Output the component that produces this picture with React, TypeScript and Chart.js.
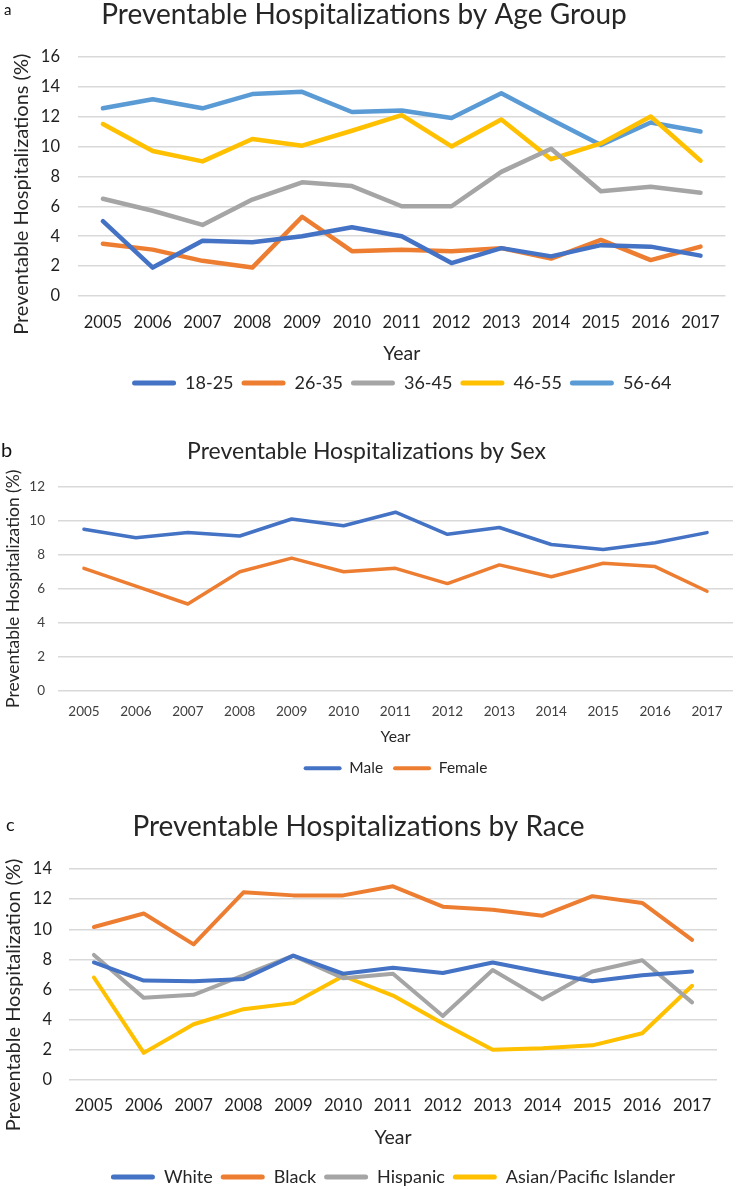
import React, { useEffect, useRef } from 'react';
import { Chart, registerables } from 'chart.js';

Chart.register(...registerables);

const FONT = 'Lato, "Noto Sans", sans-serif';

const years = ['2005', '2006', '2007', '2008', '2009', '2010', '2011', '2012', '2013', '2014', '2015', '2016', '2017'];

// Panel a: age groups
const age18to25 = [5.0, 1.9, 3.7, 3.6, 4.0, 4.6, 4.0, 2.2, 3.2, 2.65, 3.4, 3.3, 2.7];
const age26to35 = [3.5, 3.1, 2.35, 1.9, 5.3, 3.0, 3.1, 3.0, 3.2, 2.5, 3.75, 2.4, 3.3];
const age36to45 = [6.5, 5.7, 4.75, 6.45, 7.6, 7.35, 6.0, 6.0, 8.3, 9.85, 7.0, 7.3, 6.9];
const age46to55 = [11.5, 9.7, 9.0, 10.5, 10.05, 11.05, 12.1, 10.0, 11.8, 9.15, 10.2, 12.0, 9.05];
const age56to64 = [12.55, 13.15, 12.55, 13.5, 13.65, 12.3, 12.4, 11.9, 13.55, 11.8, 10.1, 11.6, 11.0];

// Panel b: sex
const male = [9.5, 9.0, 9.3, 9.1, 10.1, 9.7, 10.5, 9.2, 9.6, 8.6, 8.3, 8.7, 9.3];
const female = [7.2, 6.15, 5.1, 7.0, 7.8, 7.0, 7.2, 6.3, 7.4, 6.7, 7.5, 7.3, 5.85];

// Panel c: race
const white = [7.8, 6.6, 6.55, 6.7, 8.25, 7.05, 7.45, 7.1, 7.8, 7.15, 6.55, 6.95, 7.2];
const black = [10.15, 11.05, 9.0, 12.45, 12.25, 12.25, 12.85, 11.5, 11.3, 10.9, 12.2, 11.75, 9.3];
const hispanic = [8.3, 5.45, 5.65, 6.95, 8.25, 6.75, 7.05, 4.25, 7.3, 5.35, 7.2, 7.95, 5.15];
const asianPacific = [6.8, 1.8, 3.7, 4.7, 5.1, 6.9, 5.6, 3.75, 2.0, 2.1, 2.3, 3.1, 6.25];

const BLUE = '#4472C4';
const ORANGE = '#ED7D31';
const GRAY = '#A5A5A5';
const GOLD = '#FFC000';
const LIGHTBLUE = '#5B9BD5';

type Series = { label: string; data: number[]; color: string };

type Spec = {
  top: number;
  height: number;
  series: Series[];
  lineWidth: number;
  title: string;
  titleSize: number;
  titlePadTop: number;
  titlePadBottom: number;
  yMax: number;
  yTitle: string;
  yTitleSize: number;
  yTitlePad: number;
  yWidth: number;
  yTickPad: number;
  tickSize: number;
  tickColor: string;
  xTickPad: number;
  xTitleSize: number;
  xTitlePadTop: number;
  xTitlePadBottom: number;
  legendSize: number;
  legendBox: number;
  legendBoxH: number;
  legendPad: number;
  padRight: number;
};

const panelA: Spec = {
  top: 0,
  height: 402,
  series: [
    { label: '18-25', data: age18to25, color: BLUE },
    { label: '26-35', data: age26to35, color: ORANGE },
    { label: '36-45', data: age36to45, color: GRAY },
    { label: '46-55', data: age46to55, color: GOLD },
    { label: '56-64', data: age56to64, color: LIGHTBLUE },
  ],
  lineWidth: 4.5,
  title: 'Preventable Hospitalizations by Age Group',
  titleSize: 28,
  titlePadTop: -2,
  titlePadBottom: 25.1,
  yMax: 16,
  yTitle: 'Preventable Hospitalizations (%)       ',
  yTitleSize: 20,
  yTitlePad: 10,
  yWidth: 78,
  yTickPad: 18,
  tickSize: 16.5,
  tickColor: '#1f1f1f',
  xTickPad: 17,
  xTitleSize: 19.5,
  xTitlePadTop: -7.5,
  xTitlePadBottom: 0.3,
  legendSize: 18,
  legendBox: 44,
  legendBoxH: 5,
  legendPad: 8,
  padRight: 9,
};

const panelB: Spec = {
  top: 400,
  height: 386,
  series: [
    { label: 'Male', data: male, color: BLUE },
    { label: 'Female', data: female, color: ORANGE },
  ],
  lineWidth: 3.5,
  title: 'Preventable Hospitalizations by Sex',
  titleSize: 23,
  titlePadTop: 38.2,
  titlePadBottom: 20.9,
  yMax: 12,
  yTitle: 'Preventable Hospitalization (%)',
  yTitleSize: 17.5,
  yTitlePad: 2.5,
  yWidth: 58,
  yTickPad: 13,
  tickSize: 13.5,
  tickColor: '#404040',
  xTickPad: 12.9,
  xTitleSize: 15.7,
  xTitlePadTop: -4.9,
  xTitlePadBottom: 3.85,
  legendSize: 15.5,
  legendBox: 38,
  legendBoxH: 4,
  legendPad: 10,
  padRight: 4,
};

const panelC: Spec = {
  top: 785,
  height: 411,
  series: [
    { label: 'White', data: white, color: BLUE },
    { label: 'Black', data: black, color: ORANGE },
    { label: 'Hispanic', data: hispanic, color: GRAY },
    { label: 'Asian/Pacific Islander', data: asianPacific, color: GOLD },
  ],
  lineWidth: 4,
  title: 'Preventable Hospitalizations by Race',
  titleSize: 28,
  titlePadTop: 25.2,
  titlePadBottom: 25.2,
  yMax: 14,
  yTitle: 'Preventable Hospitalization (%)        ',
  yTitleSize: 20,
  yTitlePad: 2,
  yWidth: 69,
  yTickPad: 17,
  tickSize: 16.5,
  tickColor: '#1f1f1f',
  xTickPad: 16.1,
  xTitleSize: 19.5,
  xTitlePadTop: -5.7,
  xTitlePadBottom: 10.3,
  legendSize: 18,
  legendBox: 44,
  legendBoxH: 5,
  legendPad: 8,
  padRight: 20,
};

function makeConfig(s: Spec): any {
  return {
    type: 'line',
    data: {
      labels: years,
      datasets: s.series.map((d) => ({
        label: d.label,
        data: d.data,
        borderColor: d.color,
        backgroundColor: d.color,
        borderWidth: s.lineWidth,
        pointRadius: 0,
        pointHoverRadius: 0,
        tension: 0,
        borderCapStyle: 'round',
        borderJoinStyle: 'round',
      })),
    },
    options: {
      responsive: false,
      animation: false,
      events: [],
      layout: { padding: { top: 0, left: 0, right: s.padRight, bottom: 0 } },
      plugins: {
        tooltip: { enabled: false },
        title: {
          display: true,
          text: s.title,
          color: '#262626',
          font: { family: FONT, size: s.titleSize, weight: 'normal', lineHeight: 1.2 },
          padding: { top: s.titlePadTop, bottom: s.titlePadBottom },
        },
        legend: {
          display: true,
          position: 'bottom',
          fullSize: false,
          labels: {
            boxWidth: s.legendBox,
            boxHeight: s.legendBoxH,
            padding: s.legendPad,
            color: '#262626',
            font: { family: FONT, size: s.legendSize },
            generateLabels: (chart: any) =>
              chart.data.datasets.map((ds: any, i: number) => ({
                text: ds.label,
                fillStyle: ds.borderColor,
                strokeStyle: ds.borderColor,
                lineWidth: 0,
                borderRadius: s.legendBoxH / 2,
                hidden: false,
                datasetIndex: i,
                fontColor: '#262626',
              })),
          },
        },
      },
      scales: {
        x: {
          offset: true,
          grid: { display: false, drawTicks: false },
          border: { display: false },
          ticks: {
            color: s.tickColor,
            padding: s.xTickPad,
            maxRotation: 0,
            autoSkip: false,
            font: { family: FONT, size: s.tickSize, lineHeight: 1.2 },
          },
          title: {
            display: true,
            text: 'Year',
            color: '#262626',
            font: { family: FONT, size: s.xTitleSize, lineHeight: 1.2 },
            padding: { top: s.xTitlePadTop, bottom: s.xTitlePadBottom },
          },
        },
        y: {
          min: 0,
          max: s.yMax,
          afterFit: (scale: any) => {
            scale.width = s.yWidth;
          },
          grid: { color: '#D9D9D9', lineWidth: 1.5, drawTicks: false },
          border: { display: false },
          ticks: {
            stepSize: 2,
            color: s.tickColor,
            padding: s.yTickPad,
            font: { family: FONT, size: s.tickSize, lineHeight: 1.2 },
          },
          title: {
            display: true,
            text: s.yTitle,
            color: '#262626',
            font: { family: FONT, size: s.yTitleSize, lineHeight: 1.2 },
            padding: { top: s.yTitlePad, bottom: 0 },
          },
        },
      },
    },
  };
}

function Panel({ spec }: { spec: Spec }) {
  const ref = useRef<HTMLCanvasElement | null>(null);
  useEffect(() => {
    if (!ref.current) return;
    const chart = new Chart(ref.current, makeConfig(spec));
    return () => chart.destroy();
  }, [spec]);
  return (
    <canvas
      ref={ref}
      width={737}
      height={spec.height}
      style={{ position: 'absolute', left: 0, top: spec.top, width: 737, height: spec.height }}
    />
  );
}

const letterStyle = (left: number, top: number, size: number): React.CSSProperties => ({
  position: 'absolute',
  left,
  top,
  fontFamily: FONT,
  fontSize: size,
  lineHeight: 1.2,
  color: '#111',
});

export default function App() {
  return (
    <div
      style={{
        position: 'absolute',
        left: 0,
        top: 0,
        width: 737,
        height: 1189,
        overflow: 'hidden',
        background: '#ffffff',
      }}
    >
      <Panel spec={panelA} />
      <Panel spec={panelB} />
      <Panel spec={panelC} />
      <div style={letterStyle(4, 0, 15)}>a</div>
      <div style={letterStyle(1, 437, 20)}>b</div>
      <div style={letterStyle(6, 814, 18)}>c</div>
    </div>
  );
}
